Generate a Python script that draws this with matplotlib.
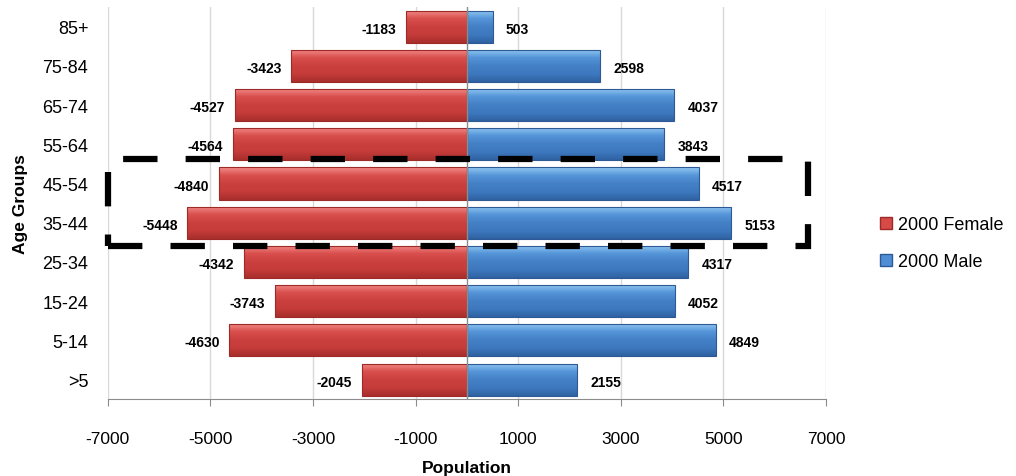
import numpy as np
import matplotlib.pyplot as plt
from matplotlib.patches import Rectangle, Patch
from matplotlib.colors import LinearSegmentedColormap

# age groups, bottom to top
age_groups = [">5", "5-14", "15-24", "25-34", "35-44", "45-54", "55-64", "65-74", "75-84", "85+"]
female = [-2045, -4630, -3743, -4342, -5448, -4840, -4564, -4527, -3423, -1183]
male = [2155, 4849, 4052, 4317, 5153, 4517, 3843, 4037, 2598, 503]
xticks = [-7000, -5000, -3000, -1000, 1000, 3000, 5000, 7000]

plt.rcParams['font.family'] = ['Liberation Sans Narrow', 'Liberation Sans', 'DejaVu Sans']

fig = plt.figure(figsize=(10.16, 4.77), dpi=100)
ax = fig.add_axes([0.106, 0.161, 0.707, 0.822])

y = np.arange(len(age_groups))
h = 0.82

red_cmap = LinearSegmentedColormap.from_list('r', ['#F28C8A', '#D9504E', '#C9403E', '#C53C3A', '#A82E2C'])
blue_cmap = LinearSegmentedColormap.from_list('b', ['#92C8F2', '#5595D8', '#4480C6', '#3E79C0', '#2F62A2'])

ax.set_xlim(-7000, 7000)

# gradient rows, top of bar first
grad = np.linspace(0, 1, 64).reshape(-1, 1)


def draw_bars(vals, cmap, edge):
    bars = ax.barh(y, vals, height=h, color='none', edgecolor=edge, linewidth=0.8, zorder=3)
    for b in bars:
        x0, y0 = b.get_x(), b.get_y()
        w, bh = b.get_width(), b.get_height()
        im = ax.imshow(grad, cmap=cmap, aspect='auto', zorder=2, origin='upper',
                       extent=[x0, x0 + w, y0, y0 + bh], interpolation='bilinear')
        im.set_clip_path(b)
    return bars


draw_bars(female, red_cmap, '#9E2A28')
draw_bars(male, blue_cmap, '#2D5A94')
ax.set_ylim(-0.5, len(age_groups) - 0.5)

for yi, v in zip(y, female):
    ax.text(v - 190, yi - 0.05, str(v), ha='right', va='center', fontsize=10, fontweight='bold', zorder=5)
for yi, v in zip(y, male):
    ax.text(v + 260, yi - 0.05, str(v), ha='left', va='center', fontsize=10, fontweight='bold', zorder=5)

ax.axvline(0, color='#8C8C8C', lw=1, zorder=4)
ax.set_xticks(xticks)
ax.set_xticklabels([str(t) for t in xticks], fontsize=12.5)
ax.set_yticks(y)
ax.set_yticklabels(age_groups, fontsize=13)
ax.tick_params(axis='y', length=0, pad=14)
ax.tick_params(axis='x', length=5, color='#8C8C8C', pad=18)
ax.grid(axis='x', color='#D9D9D9', lw=1, zorder=0)
for s in ['top', 'right', 'left']:
    ax.spines[s].set_visible(False)
ax.spines['bottom'].set_color('#8C8C8C')

ax.set_xlabel('Population', fontsize=12.5, fontweight='bold', labelpad=10)
ax.set_ylabel('Age Groups', fontsize=12.5, fontweight='bold', labelpad=10)

# dashed highlight box around 35-54
box = Rectangle((-7000, 3.42), 13650, 2.2, fill=False, ls=(0, (5.5, 4.5)), lw=4.5,
                edgecolor='black', clip_on=False, zorder=6)
ax.add_patch(box)

# legend
handles = [Patch(facecolor='#D64A48', edgecolor='#9E2A28', label='2000 Female'),
           Patch(facecolor='#4F8ED4', edgecolor='#2D5A94', label='2000 Male')]
fig.legend(handles=handles, loc='center left', bbox_to_anchor=(0.85, 0.488),
           frameon=False, fontsize=13, handlelength=0.7, handleheight=0.7,
           handletextpad=0.3, labelspacing=1.1)

fig.savefig('out.png', dpi=100)
